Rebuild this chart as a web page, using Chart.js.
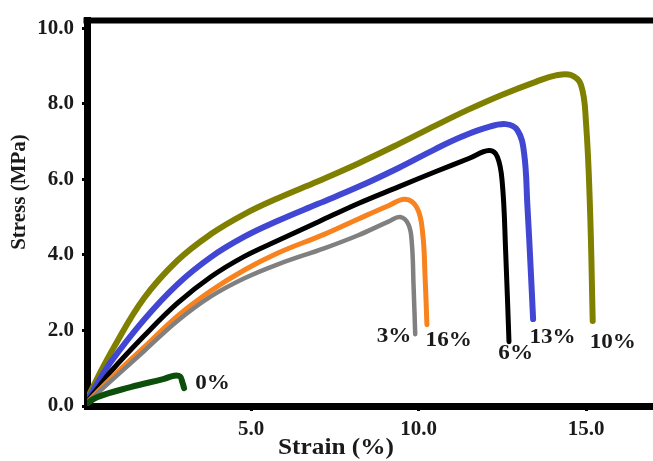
<!DOCTYPE html>
<html>
<head>
<meta charset="utf-8">
<script src="https://cdn.jsdelivr.net/npm/chart.js@4.4.1/dist/chart.umd.min.js"></script>
<style>
  html, body { margin: 0; padding: 0; background: #fff; }
  #wrap { width: 653px; height: 461px; }
</style>
</head>
<body>
<div id="wrap"><canvas id="myChart"></canvas></div>
<script>
// tick labels
const xTicks = [5, 10, 15];
const yTicks = [0, 2, 4, 6, 8, 10];

// series labels (filler content %)
const seriesNames = ['0%', '3%', '16%', '6%', '13%', '10%'];

// 0%
const strain0 = [0, 0.4, 1.4, 2.4, 2.7, 2.88, 2.95, 3.0];
const stress0 = [0, 0.23, 0.5, 0.72, 0.8, 0.78, 0.62, 0.47];
// 3%
const strain3 = [0, 0.8, 1.8, 2.8, 3.8, 4.8, 5.8, 7.2, 8.2, 9.1, 9.45, 9.7, 9.8, 9.85, 9.9];
const stress3 = [0, 0.65, 1.45, 2.25, 2.9, 3.38, 3.75, 4.18, 4.52, 4.88, 5.0, 4.8, 4.3, 3.2, 1.9];
// 16%
const strain16 = [0, 0.8, 1.8, 2.8, 3.8, 4.8, 5.8, 7.2, 8.2, 9.1, 9.6, 9.95, 10.12, 10.2, 10.25];
const stress16 = [0, 0.72, 1.55, 2.38, 3.05, 3.6, 4.05, 4.55, 4.95, 5.3, 5.47, 5.25, 4.6, 3.3, 2.15];
// 6%
const strain6 = [0, 0.4, 0.8, 1.8, 2.8, 3.8, 4.8, 5.8, 7.0, 8.2, 9.4, 10.5, 11.5, 12.1, 12.35, 12.5, 12.6, 12.7];
const stress6 = [0, 0.45, 0.9, 1.85, 2.72, 3.42, 3.96, 4.38, 4.87, 5.36, 5.8, 6.2, 6.55, 6.76, 6.6, 5.9, 4.1, 1.7];
// 13%
const strain13 = [0, 0.4, 0.8, 1.8, 2.8, 3.8, 4.8, 5.8, 7.0, 8.2, 9.4, 10.5, 11.3, 12.0, 12.6, 12.95, 13.15, 13.25, 13.35, 13.42];
const stress13 = [0, 0.58, 1.15, 2.28, 3.22, 3.94, 4.48, 4.9, 5.35, 5.8, 6.3, 6.8, 7.13, 7.36, 7.46, 7.3, 6.7, 5.3, 3.6, 2.3];
// 10%
const strain10 = [0, 0.4, 0.9, 1.8, 2.8, 3.8, 4.8, 5.8, 7.0, 8.2, 9.4, 10.5, 11.5, 12.5, 13.5, 14.1, 14.55, 14.85, 15.0, 15.12, 15.2];
const stress10 = [0, 0.72, 1.55, 2.85, 3.85, 4.55, 5.08, 5.5, 5.95, 6.42, 6.93, 7.42, 7.85, 8.24, 8.58, 8.75, 8.76, 8.5, 7.5, 5.2, 2.25];

const pts = (xs, ys) => xs.map((x, i) => ({ x: x, y: ys[i] }));

function line(label, xs, ys, color, w) {
  return {
    label: label,
    data: pts(xs, ys),
    borderColor: color,
    backgroundColor: color,
    borderWidth: w,
    pointRadius: 0,
    tension: 0.4,
    borderJoinStyle: 'round',
    borderCapStyle: 'round'
  };
}

const serif = '"Liberation Serif", "Times New Roman", serif';

// frame on top + curve labels + axis titles
const extras = {
  id: 'extras',
  afterDraw(chart) {
    const { ctx, chartArea, scales } = chart;
    ctx.save();
    ctx.strokeStyle = '#000';
    ctx.lineWidth = 6;
    ctx.beginPath();
    ctx.moveTo(chartArea.left - 3.5, chartArea.top);
    ctx.lineTo(chartArea.right, chartArea.top);
    ctx.stroke();

    ctx.fillStyle = '#1a1a1a';
    ctx.textAlign = 'center';
    ctx.textBaseline = 'middle';
    const spots = [[3.85, 0.6], [9.27, 1.84], [10.9, 1.74], [12.9, 1.4], [14.0, 1.81], [15.8, 1.68]];
    ctx.font = 'bold 21px ' + serif;
    spots.forEach((p, i) => {
      const px = scales.x.getPixelForValue(p[0]);
      const py = scales.y.getPixelForValue(p[1]);
      ctx.save();
      ctx.translate(px, py);
      ctx.scale(1.1, 1);
      ctx.fillText(seriesNames[i], 0, 0);
      ctx.restore();
    });

    ctx.save();
    ctx.font = 'bold 23px ' + serif;
    ctx.translate(336, 448);
    ctx.scale(1.1, 1);
    ctx.fillText('Strain (%)', 0, 0);
    ctx.restore();

    ctx.save();
    ctx.font = 'bold 21px ' + serif;
    ctx.translate(20, 192);
    ctx.rotate(-Math.PI / 2);
    ctx.fillText('Stress (MPa)', 0, 0);
    ctx.restore();
    ctx.restore();
  }
};

const tickFont = { family: serif, size: 21, weight: 'bold' };

const config = {
  type: 'line',
  data: {
    datasets: [
      line(seriesNames[0], strain0, stress0, '#0b4f0b', 6),
      line(seriesNames[1], strain3, stress3, '#808080', 4.5),
      line(seriesNames[2], strain16, stress16, '#f7821e', 5),
      line(seriesNames[3], strain6, stress6, '#000000', 5),
      line(seriesNames[4], strain13, stress13, '#4147d3', 6),
      line(seriesNames[5], strain10, stress10, '#808000', 6)
    ]
  },
  options: {
    responsive: true,
    maintainAspectRatio: false,
    animation: false,
    layout: { padding: { top: 12, right: 0, left: 0, bottom: 0 } },
    plugins: {
      legend: { display: false },
      tooltip: { enabled: false }
    },
    scales: {
      x: {
        type: 'linear',
        min: 0.1,
        max: 17,
        afterBuildTicks: s => { s.ticks = xTicks.map(v => ({ value: v })); },
        afterFit: s => { s.height = 55; },
        ticks: {
          color: '#1a1a1a',
          font: tickFont,
          padding: 6,
          callback: v => v.toFixed(1)
        },
        grid: { drawOnChartArea: false, drawTicks: true, tickLength: 5, tickWidth: 3, color: '#000' },
        border: { display: true, color: '#000', width: 7 }
      },
      y: {
        min: 0,
        max: 10.2,
        afterBuildTicks: s => { s.ticks = yTicks.map(v => ({ value: v })); },
        afterFit: s => { s.width = 87; },
        ticks: {
          color: '#1a1a1a',
          font: tickFont,
          padding: 8,
          callback: v => v.toFixed(1)
        },
        grid: { drawOnChartArea: false, drawTicks: true, tickLength: 5, tickWidth: 3, color: '#000' },
        border: { display: true, color: '#000', width: 7 }
      }
    }
  },
  plugins: [extras]
};

const myChart = new Chart(document.getElementById('myChart'), config);
</script>
</body>
</html>
